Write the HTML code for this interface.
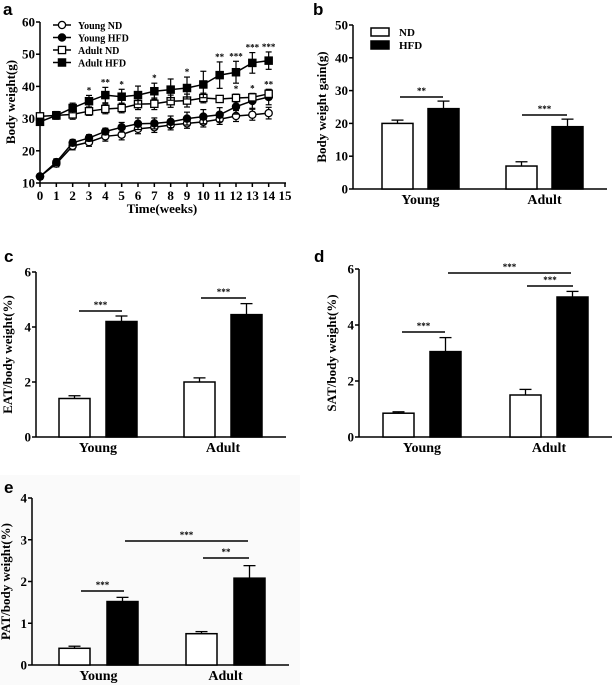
<!DOCTYPE html>
<html><head><meta charset="utf-8"><style>
html,body{margin:0;padding:0;background:#fff;}
svg{display:block;}
text{font-family:"Liberation Serif",serif;font-weight:bold;fill:#000;}
.pl{font-family:"Liberation Sans",sans-serif;font-size:17px;}
</style></head><body>
<svg id="fig" width="614" height="685" viewBox="0 0 614 685" xmlns="http://www.w3.org/2000/svg">
<rect x="0" y="475" width="300" height="210" fill="#fafafa"/>
<text class="pl" x="3" y="15">a</text>
<text class="pl" x="313" y="15">b</text>
<text class="pl" x="4" y="262">c</text>
<text class="pl" x="314" y="262">d</text>
<text class="pl" x="4" y="493">e</text>
</svg>
<script>
// ---- Panel a data ----
const weeks = [0,1,2,3,4,5,6,7,8,9,10,11,12,13,14];
const youngND  = [12,16,21.5,22.7,24.5,25,26.8,27.3,28,28.5,29,29.8,30.8,31.2,31.7];
const youngNDerr = [0.8,1,1.2,1.3,1.5,1.6,1.5,1.6,1.5,1.5,1.6,1.6,1.7,1.7,1.8];
const youngHFD = [12,16.5,22.5,24,26,27.3,28.4,28.5,29,30,30.6,31.2,33.7,35.5,36.7];
const youngHFDerr = [0.8,1,1,1,1,1.5,1.8,1.7,1.8,2,2.2,2.2,2.3,2.3,2.4];
const adultND  = [30.7,31,31.3,32.3,33,33.3,34.5,34.6,35.4,35.6,36.4,36.1,36.4,36.6,37.7];
const adultNDerr = [1,1.1,1.5,1.3,1.5,1.5,1.7,1.8,1.9,2,1.5,1,1.2,1.2,1.3];
const adultHFD = [29,31,33.3,35.4,37.3,36.8,37.3,38.5,39,39.5,40.6,43.5,44.4,47.3,48];
const adultHFDerr = [1,1.2,1.5,1.8,2.4,2.3,2.8,2.5,3.3,3.4,4.1,4.1,3.4,3.2,2.7];
const starsAdult = ['', '', '', '*', '**', '*', '', '*', '', '*', '', '**', '***', '***', '***'];
const starsYoung = ['', '', '', '', '', '', '', '', '', '', '', '', '*', '*', '**'];
const aYTicks = [10,20,30,40,50,60];
const aXTicks = [0,1,2,3,4,5,6,7,8,9,10,11,12,13,14,15];
const legendLabels = ['Young ND','Young HFD','Adult ND','Adult HFD'];

// ---- Bar panels data ----
const groups = ['Young','Adult'];
const bND = [20,7];   const bNDerr = [1,1.3];
const bHFD = [24.5,19]; const bHFDerr = [2.3,2.3];
const bTicks = [0,10,20,30,40,50];
const cND = [1.4,2.0]; const cNDerr = [0.1,0.15];
const cHFD = [4.2,4.45]; const cHFDerr = [0.2,0.4];
const cTicks = [0,2,4,6];
const dND = [0.85,1.5]; const dNDerr = [0.05,0.2];
const dHFD = [3.05,5.0]; const dHFDerr = [0.5,0.2];
const dTicks = [0,2,4,6];
const eND = [0.4,0.75]; const eNDerr = [0.05,0.05];
const eHFD = [1.52,2.08]; const eHFDerr = [0.1,0.3];
const eTicks = [0,1,2,3,4];

const NS='http://www.w3.org/2000/svg';
const svg=document.getElementById('fig');
function mk(tag,attrs,parent){const e=document.createElementNS(NS,tag);for(const k in attrs)e.setAttribute(k,attrs[k]);(parent||svg).appendChild(e);return e;}
function line(x1,y1,x2,y2,w,p){return mk('line',{x1,y1,x2,y2,stroke:'#000','stroke-width':w||1.5},p);}
function txt(x,y,s,size,anchor,p){const t=mk('text',{x,y,'font-size':size,'text-anchor':anchor||'middle'},p);t.textContent=s;return t;}

// ---- Panel a ----
(function(){
  const g=mk('g',{});
  
  
  const x0=40,x1=285,yTop=22,yBot=183;
  const X=v=>x0+(v-0)/(15-0)*(x1-x0);
  const Y=v=>yBot-(v-10)/(60-10)*(yBot-yTop);
  line(x0,yTop,x0,yBot,1.5,g); line(x0,yBot,x1+1,yBot,1.5,g);
  aYTicks.forEach(v=>{line(x0-4,Y(v),x0,Y(v),1.5,g);const t=txt(x0-5,Y(v)+4.5,v,13,'end',g);
    });
  aXTicks.forEach(v=>{line(X(v),yBot,X(v),yBot+4,1.5,g);const t=txt(X(v),yBot+17,v,13,'middle',g);
    });
  const xt=txt(162,213,'Time(weeks)',13,'middle',g);
  
  const yt=txt(0,0,'Body weight(g)',13,'middle',g);yt.setAttribute('transform','translate(15,102) rotate(-90)');
  
  const series=[[youngND,youngNDerr,'circle',false],[youngHFD,youngHFDerr,'circle',true],[adultND,adultNDerr,'square',false],[adultHFD,adultHFDerr,'square',true]];
  const names=['young-nd','young-hfd','adult-nd','adult-hfd'];
  series.forEach((s,si)=>{
    const [vals,errs,shape,fill]=s;
    const sg=mk('g',{},g);
    
    
    mk('polyline',{points:vals.map((v,i)=>X(weeks[i])+','+Y(v)).join(' '),fill:'none',stroke:'#000','stroke-width':1.5},sg);
    vals.forEach((v,i)=>{
      const cx=X(weeks[i]),cy=Y(v),e=errs[i];
      line(cx,Y(v-e),cx,Y(v+e),1.2,sg);line(cx-3,Y(v+e),cx+3,Y(v+e),1.2,sg);line(cx-3,Y(v-e),cx+3,Y(v-e),1.2,sg);
      let m;
      if(shape==='circle') m=mk('circle',{cx,cy,r:3.6,fill:fill?'#000':'#fff',stroke:'#000','stroke-width':1.3},sg);
      else m=mk('rect',{x:cx-3.6,y:cy-3.6,width:7.2,height:7.2,fill:fill?'#000':'#fff',stroke:'#000','stroke-width':1.3},sg);
      
      
    });
  });
  starsAdult.forEach((s,i)=>{if(!s)return;const t=txt(X(weeks[i]),Y(adultHFD[i]+adultHFDerr[i])-2,s,9,'middle',g);t.setAttribute('fill','#555');
    });
  starsYoung.forEach((s,i)=>{if(!s)return;const t=txt(X(weeks[i]),Y(adultND[i]+adultNDerr[i])-2,s,9,'middle',g);t.setAttribute('fill','#555');
    });
  legendLabels.forEach((lab,i)=>{
    const ly=25+i*12.5;
    const lg=mk('g',{},g);
    
    
    line(53,ly,71,ly,1.5,lg);
    const f=(i%2)===1;
    if(i<2) mk('circle',{cx:62,cy:ly,r:3.6,fill:f?'#000':'#fff',stroke:'#000','stroke-width':1.3},lg);
    else mk('rect',{x:58.4,y:ly-3.6,width:7.2,height:7.2,fill:f?'#000':'#fff',stroke:'#000','stroke-width':1.3},lg);
    txt(78,ly+4,lab,10,'start',lg);
  });
})();

// ---- generic bar panel ----
function barPanel(opt){
  const g=mk('g',{});
  
  
  const {ax,yTop,yBot,xEnd,ticks,nd,nde,hfd,hfde,bars,ylab,ylabX,labY,sig}=opt;
  const ymax=ticks[ticks.length-1];
  const Y=v=>yBot-v/ymax*(yBot-yTop);
  line(ax,yTop,ax,yBot,1.5,g);line(ax,yBot,xEnd,yBot,1.5,g);
  ticks.forEach(v=>{line(ax-4,Y(v),ax,Y(v),1.5,g);const t=txt(ax-5,Y(v)+4.5,v,13,'end',g);
    });
  const yt=txt(0,0,ylab,13,'middle',g);yt.setAttribute('transform','translate('+ylabX+','+((yTop+yBot)/2)+') rotate(-90)');
  
  groups.forEach((gname,i)=>{
    [[nd,nde,false,bars[i][0]],[hfd,hfde,true,bars[i][1]]].forEach(([vals,errs,fill,bx],k)=>{
      const v=vals[i],e=errs[i],w=31,cx=bx+w/2;
      line(cx,Y(v),cx,Y(v+e),1.3,g);line(cx-6,Y(v+e),cx+6,Y(v+e),1.3,g);
      const r=mk('rect',{x:bx,y:Y(v),width:w,height:yBot-Y(v),fill:fill?'#000':'#fff',stroke:'#000','stroke-width':1.5},g);
      
      
    });
    const t=txt((bars[i][0]+bars[i][1]+31)/2,labY,gname,14,'middle',g);
    
  });
  sig.forEach(s=>{line(s[0],s[2],s[1],s[2],1.5,g);const t=txt((s[0]+s[1])/2,s[2]-3,s[3],9,'middle',g);t.setAttribute('fill','#555');
    });
  return g;
}

const gb=barPanel({name:'panel-b-bar-chart',ax:353,yTop:25,yBot:189,xEnd:607,ticks:bTicks,nd:bND,nde:bNDerr,hfd:bHFD,hfde:bHFDerr,
  bars:[[382,428],[506,552]],ylab:'Body weight gain(g)',ylabX:326,labY:204,
  sig:[[400,443,97,'**'],[522,567,115,'***']]});
[['ND',false,32],['HFD',true,45]].forEach(([lab,f,ly])=>{
  const lg=mk('g',{},gb);
  
  
  mk('rect',{x:371,y:ly-4,width:18,height:8,fill:f?'#000':'#fff',stroke:'#000','stroke-width':1.5},lg);
  txt(399,ly+4,lab,11,'start',lg);
});

barPanel({name:'panel-c-bar-chart',ax:36,yTop:272,yBot:437,xEnd:286,ticks:cTicks,nd:cND,nde:cNDerr,hfd:cHFD,hfde:cHFDerr,
  bars:[[59,106],[184,231]],ylab:'EAT/body weight(%)',ylabX:12,labY:452,
  sig:[[79,122,311,'***'],[201,246,298,'***']]});

barPanel({name:'panel-d-bar-chart',ax:359,yTop:269,yBot:437,xEnd:612,ticks:dTicks,nd:dND,nde:dNDerr,hfd:dHFD,hfde:dHFDerr,
  bars:[[383,430],[510,557]],ylab:'SAT/body weight(%)',ylabX:336,labY:452,
  sig:[[402,445,332,'***'],[527,573,286,'***'],[448,571,273,'***']]});

barPanel({name:'panel-e-bar-chart',ax:32,yTop:498,yBot:665,xEnd:289,ticks:eTicks,nd:eND,nde:eNDerr,hfd:eHFD,hfde:eHFDerr,
  bars:[[59,107],[186,234]],ylab:'PAT/body weight(%)',ylabX:10,labY:680,
  sig:[[81,124,591,'***'],[203,249,558,'**'],[125,248,541,'***']]});
</script>
</body></html>
